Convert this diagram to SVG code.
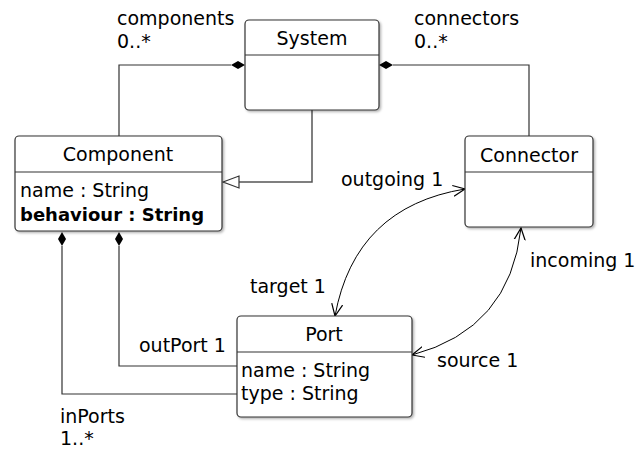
<svg xmlns="http://www.w3.org/2000/svg" width="639" height="451" viewBox="0 0 639 451">
  <defs>
    <filter id="shadow" x="-10%" y="-10%" width="130%" height="130%">
      <feDropShadow dx="1.5" dy="1.5" stdDeviation="1.2" flood-color="#000" flood-opacity="0.3"/>
    </filter>
    <marker id="open" viewBox="0 0 13 13" refX="12" refY="6.5" markerWidth="13" markerHeight="13" markerUnits="userSpaceOnUse" orient="auto">
      <path d="M0,1 L12,6.5 L0,12" fill="none" stroke="#000" stroke-width="1.2"/>
    </marker>
    <marker id="openStart" viewBox="0 0 13 13" refX="1" refY="6.5" markerWidth="13" markerHeight="13" markerUnits="userSpaceOnUse" orient="auto">
      <path d="M13,1 L1,6.5 L13,12" fill="none" stroke="#000" stroke-width="1.2"/>
    </marker>
  </defs>
  <style>
    text { font-family: "DejaVu Sans", "Liberation Sans", sans-serif; font-size: 19px; fill: #000; }
    .title { text-anchor: middle; }
    .bold { font-weight: bold; font-size: 18px; }
    .box { fill: #fff; stroke: #333; stroke-width: 1.2; filter: url(#shadow); }
    .sep { stroke: #333; stroke-width: 1.2; }
    .line { fill: none; stroke: #333; stroke-width: 1.2; }
    .gen { fill: none; stroke: #555; stroke-width: 1.5; }
    .curve { fill: none; stroke: #000; stroke-width: 1; }
  </style>
  <rect width="639" height="451" fill="#fff"/>

  <!-- connectors -->
  <g id="connectors">
    <!-- System composes Component -->
    <polyline class="line" points="119,136 119,65 231,65"/>
    <path d="M231,65 L238,61 L245,65 L238,69 Z" fill="#000"/>
    <!-- System composes Connector -->
    <polyline class="line" points="529,136 529,65 393,65"/>
    <path d="M379,65 L386,61 L393,65 L386,69 Z" fill="#000"/>
    <!-- Component specializes System -->
    <polyline class="gen" points="312,110 312,182 239,182"/>
    <path d="M223,182 L239,176 L239,188 Z" fill="#fff" stroke="#333" stroke-width="1.2"/>
    <!-- Component composes outPort -->
    <polyline class="line" points="119,246 119,366 237,366"/>
    <path d="M119,232 L123,239 L119,246 L115,239 Z" fill="#000"/>
    <!-- Component composes inPorts -->
    <polyline class="line" points="62,246 62,394 237,394"/>
    <path d="M62,232 L66,239 L62,246 L58,239 Z" fill="#000"/>
    <!-- Port target / Connector outgoing -->
    <path class="curve" d="M465,189 Q355,207 335,316" marker-start="url(#openStart)" marker-end="url(#open)"/>
    <!-- Connector incoming / Port source -->
    <path class="curve" d="M521,228 Q510,329 412,355" marker-start="url(#openStart)" marker-end="url(#open)"/>
  </g>

  <!-- System -->
  <g id="system">
    <rect class="box" x="245" y="20" width="134" height="90" rx="4"/>
    <line class="sep" x1="245" y1="55" x2="379" y2="55"/>
    <text class="title" x="312" y="45">System</text>
  </g>

  <!-- Component -->
  <g id="component">
    <rect class="box" x="15" y="136" width="207" height="95" rx="4"/>
    <line class="sep" x1="15" y1="172" x2="222" y2="172"/>
    <text class="title" x="118" y="161">Component</text>
    <text x="20" y="197">name : String</text>
    <text class="bold" x="20" y="221">behaviour : String</text>
  </g>

  <!-- Connector -->
  <g id="connector">
    <rect class="box" x="465" y="136" width="128" height="91" rx="4"/>
    <line class="sep" x1="465" y1="172" x2="593" y2="172"/>
    <text class="title" x="529" y="162">Connector</text>
  </g>

  <!-- Port -->
  <g id="port">
    <rect class="box" x="237" y="316" width="175" height="101" rx="4"/>
    <line class="sep" x1="237" y1="352" x2="412" y2="352"/>
    <text class="title" x="324" y="341">Port</text>
    <text x="241" y="377">name : String</text>
    <text x="241" y="400">type : String</text>
  </g>

  <!-- association end labels -->
  <g id="labels">
    <text x="117" y="25">components</text>
    <text x="117" y="48">0..*</text>
    <text x="414" y="25">connectors</text>
    <text x="414" y="48">0..*</text>
    <text x="341" y="186">outgoing 1</text>
    <text x="530" y="267">incoming 1</text>
    <text x="250" y="293">target 1</text>
    <text x="437" y="367">source 1</text>
    <text x="139" y="352">outPort 1</text>
    <text x="60" y="423">inPorts</text>
    <text x="60" y="445">1..*</text>
  </g>
</svg>
